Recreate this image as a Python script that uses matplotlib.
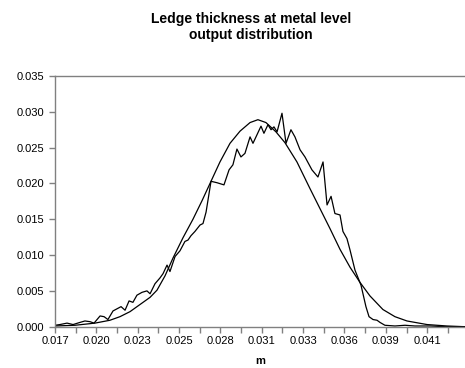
import matplotlib
matplotlib.use("Agg")
import matplotlib.pyplot as plt
from matplotlib.ticker import FixedLocator, NullLocator

plt.rcParams.update({"font.family": ["Liberation Sans", "DejaVu Sans"]})

# simulated output histogram (noisy) and the fitted distribution (smooth)
sim_x = [0.01730, 0.01762, 0.01808, 0.01847, 0.01892, 0.01924, 0.01957, 0.01983,
         0.02022, 0.02048, 0.02073, 0.02106, 0.02132, 0.02158, 0.02184, 0.02210,
         0.02235, 0.02261, 0.02294, 0.02326, 0.02346, 0.02378, 0.02410, 0.02430,
         0.02456, 0.02475, 0.02508, 0.02540, 0.02572, 0.02592, 0.02611, 0.02637,
         0.02670, 0.02689, 0.02709, 0.02741, 0.02780, 0.02825, 0.02858, 0.02883,
         0.02909, 0.02935, 0.02961, 0.02994, 0.03013, 0.03039, 0.03065, 0.03084,
         0.03110, 0.03130, 0.03149, 0.03169, 0.03201, 0.03227, 0.03259, 0.03285,
         0.03318, 0.03350, 0.03395, 0.03434, 0.03467, 0.03493, 0.03519, 0.03544,
         0.03577, 0.03596, 0.03622, 0.03642, 0.03674, 0.03713, 0.03745, 0.03765,
         0.03791, 0.03817, 0.03836, 0.03868, 0.03933, 0.03998, 0.04063, 0.04160,
         0.04257, 0.04387]
sim_y = [0.0002, 0.0003, 0.0005, 0.0003, 0.0006, 0.0008, 0.0007, 0.0005,
         0.0015, 0.0014, 0.0010, 0.0022, 0.0025, 0.0028, 0.0023, 0.0036,
         0.0034, 0.0044, 0.0048, 0.0050, 0.0046, 0.0060, 0.0068, 0.0074,
         0.0086, 0.0077, 0.0098, 0.0106, 0.0119, 0.0121, 0.0127, 0.0133,
         0.0142, 0.0144, 0.0160, 0.0203, 0.0201, 0.0198, 0.0219, 0.0226,
         0.0248, 0.0237, 0.0242, 0.0265, 0.0256, 0.0268, 0.0280, 0.0270,
         0.0282, 0.0275, 0.0279, 0.0272, 0.0298, 0.0256, 0.0275, 0.0265,
         0.0247, 0.0237, 0.0219, 0.0209, 0.0230, 0.0170, 0.0182, 0.0158,
         0.0156, 0.0133, 0.0123, 0.0107, 0.0079, 0.0058, 0.0028, 0.0014,
         0.0010, 0.0009, 0.0006, 0.0002, 0.0001, 0.0002, 0.0001, 0.0001,
         0.0000, 0.0000]

fit_x = [0.01730, 0.01860, 0.01989, 0.02086, 0.02151, 0.02216, 0.02281, 0.02346,
         0.02391, 0.02443, 0.02495, 0.02559, 0.02624, 0.02683, 0.02741, 0.02799,
         0.02864, 0.02929, 0.02994, 0.03045, 0.03097, 0.03162, 0.03220, 0.03298,
         0.03382, 0.03447, 0.03512, 0.03577, 0.03642, 0.03706, 0.03771, 0.03855,
         0.03933, 0.04011, 0.04141, 0.04270, 0.04387]
fit_y = [0.0001, 0.0002, 0.0005, 0.0009, 0.0014, 0.0021, 0.0031, 0.0041,
         0.0051, 0.0071, 0.0096, 0.0124, 0.0150, 0.0176, 0.0203, 0.0230,
         0.0256, 0.0273, 0.0285, 0.0289, 0.0285, 0.0272, 0.0257, 0.0230,
         0.0193, 0.0165, 0.0137, 0.0108, 0.0083, 0.0062, 0.0043, 0.0024,
         0.0014, 0.0008, 0.0003, 0.0001, 0.0000]

x_labels = ["0.017", "", "0.020", "", "0.023", "", "0.025", "", "0.028", "",
            "0.031", "", "0.033", "", "0.036", "", "0.039", "", "0.041", ""]
y_labels = ["0.000", "0.005", "0.010", "0.015", "0.020", "0.025", "0.030", "0.035"]

GREY = "#808080"
fig = plt.figure(figsize=(4.65, 3.68), dpi=100)
ax = fig.add_axes([55 / 465, 41.3 / 368, 410 / 465, 250.7 / 368])

ax.plot(sim_x, sim_y, color="black", lw=0.9)
ax.plot(fit_x, fit_y, color="black", lw=0.9)

x0, step = 0.0173, 0.00134
ax.set_xlim(x0, 0.04387)
ax.set_ylim(0, 0.035)
ax.xaxis.set_major_locator(FixedLocator([x0 + step * i for i in range(len(x_labels))]))
ax.set_xticklabels(x_labels)
ax.yaxis.set_major_locator(FixedLocator([0.005 * i for i in range(len(y_labels))]))
ax.set_yticklabels(y_labels)
ax.xaxis.set_minor_locator(NullLocator())

for s in ("left", "bottom", "top"):
    ax.spines[s].set_color(GREY)
    ax.spines[s].set_linewidth(1.0)
ax.spines["right"].set_visible(False)
ax.tick_params(axis="both", colors=GREY, length=4, width=1.0, labelsize=8,
               labelcolor="black", pad=3)
ax.tick_params(axis="y", pad=4)

ax.set_xlabel("m", fontsize=8, fontweight="bold", labelpad=7)
fig.text(251 / 465, 1 - 12 / 368, "Ledge thickness at metal level\noutput distribution",
         ha="center", va="top", fontsize=10, fontweight="bold", linespacing=1.2)

fig.savefig("out.png", dpi=100)
